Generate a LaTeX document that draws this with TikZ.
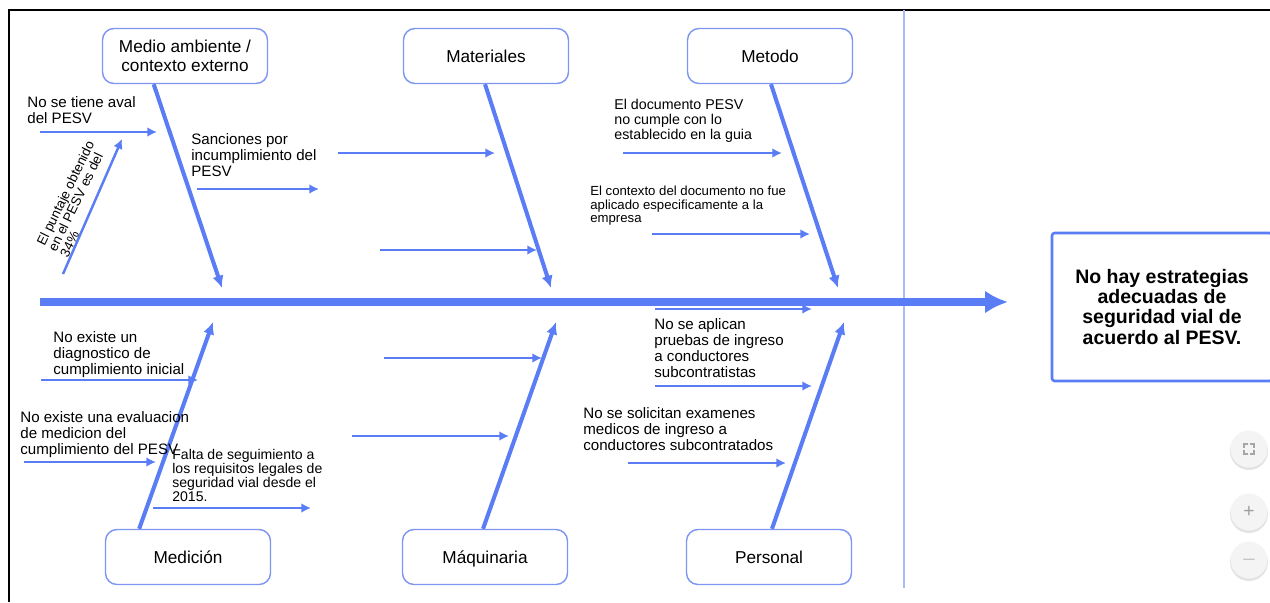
\documentclass[tikz,border=0pt]{standalone}
\usepackage{fontspec}
\setmainfont{Liberation Sans}
\usetikzlibrary{arrows.meta}
\definecolor{bone}{RGB}{90,125,245}
\definecolor{boxline}{RGB}{125,150,242}
\definecolor{sepline}{RGB}{170,186,250}
\begin{document}
\begin{tikzpicture}[
    x=0.02cm, y=-0.02cm,
    cat/.style={draw=boxline, line width=0.8pt, rounded corners=6.5pt, fill=white,
      minimum width=3.3cm, minimum height=1.1cm, align=center,
      font=\fontsize{9.8}{10.8}\selectfont},
    onecat/.style={cat, text height=0.72em, text depth=0pt},
    effect/.style={draw=bone, line width=1.5pt, rounded corners=1.5pt, fill=white,
      minimum width=4.4cm, minimum height=2.96cm, align=center,
      font=\fontsize{11.1}{11.4}\selectfont\bfseries},
    cause/.style={anchor=north west, inner sep=0pt, align=left,
      font=\fontsize{8.6}{9.1}\selectfont},
    spine/.style={bone, line width=4.3pt, -{Latex[length=13pt,width=13pt]}},
    rib/.style={bone, line width=2.3pt, -{Latex[length=7pt,width=6.5pt]}},
    sub/.style={bone, line width=1.4pt, -{Latex[length=5.5pt,width=5.5pt]}},
    btn/.style={circle, fill=gray!9, minimum size=0.74cm, inner sep=0pt,
      font=\fontsize{11}{11}\selectfont, text=gray!75},
  ]
  \useasboundingbox (0,0) rectangle (1270,602);
  % screen frame
  \draw[line width=1.1pt] (9,602) -- (9,10) -- (1270,10);
  \draw[sepline, line width=0.9pt] (904,10) -- (904,588);

  % categories
  \node[cat] (medio) at (185,56) {Medio ambiente /\\contexto externo};
  \node[onecat] (mat) at (486,56) {Materiales};
  \node[onecat] (metodo) at (770,56) {Metodo};
  \node[onecat] (medicion) at (188,557) {Medición};
  \node[onecat] (maq) at (485,557) {Máquinaria};
  \node[onecat] (personal) at (769,557) {Personal};
  \node[effect] (efecto) at (1162,307) {No hay estrategias\\adecuadas de\\seguridad vial de\\acuerdo al PESV.};

  % points on the spine
  \coordinate (cola) at (40,302);
  \coordinate (punta) at (1008,302);
  \coordinate (j1) at (222,288);
  \coordinate (j2) at (551,288);
  \coordinate (j3) at (838,288);
  \coordinate (j4) at (213,322);
  \coordinate (j5) at (556,322);
  \coordinate (j6) at (844,322);

  % sub causes
  \coordinate (a1) at (40,132);   \coordinate (b1) at (157,132);
  \coordinate (a2) at (63,274);   \coordinate (b2) at (122,139);
  \coordinate (a3) at (197,189);  \coordinate (b3) at (319,189);
  \coordinate (a4) at (338,153);  \coordinate (b4) at (495,153);
  \coordinate (a5) at (380,250);  \coordinate (b5) at (537,250);
  \coordinate (a6) at (623,153);  \coordinate (b6) at (782,153);
  \coordinate (a7) at (652,234);  \coordinate (b7) at (810,234);
  \coordinate (a8) at (41,380);   \coordinate (b8) at (198,380);
  \coordinate (a9) at (24,462);   \coordinate (b9) at (156,462);
  \coordinate (a10) at (153,508); \coordinate (b10) at (311,508);
  \coordinate (a11) at (384,358); \coordinate (b11) at (542,358);
  \coordinate (a12) at (352,436); \coordinate (b12) at (509,436);
  \coordinate (a13) at (655,309); \coordinate (b13) at (812,309);
  \coordinate (a14) at (655,386); \coordinate (b14) at (812,386);
  \coordinate (a15) at (628,463); \coordinate (b15) at (786,463);

  \foreach \i in {1,...,15}
    \draw[sub] (a\i) -- (b\i);

  \draw[spine] (cola) -- (punta);

  \draw[rib] (medio.222) -- (j1);
  \draw[rib] (mat.268) -- (j2);
  \draw[rib] (metodo.272) -- (j3);
  \draw[rib] (medicion.150) -- (j4);
  \draw[rib] (maq.94) -- (j5);
  \draw[rib] (personal.84) -- (j6);

  % texts
  \node[cause] (aval) at (27,96) {No se tiene aval\\del PESV};
  \node[cause, anchor=center, rotate=64, font=\fontsize{7.6}{7.4}\selectfont]
    (puntaje) at (77,199) {El puntaje obtenido\\en el PESV es del\\34\%};
  \node[cause] (sanciones) at (191,133) {Sanciones por\\incumplimiento del\\PESV};
  \node[cause, font=\fontsize{8.1}{8.5}\selectfont] (documento) at (614,99)
    {El documento PESV\\no cumple con lo\\establecido en la guia};
  \node[cause, font=\fontsize{7.5}{7.7}\selectfont] (contexto) at (590,186)
    {El contexto del documento no fue\\aplicado especificamente a la\\empresa};
  \node[cause] (diagnostico) at (53,331) {No existe un\\diagnostico de\\cumplimiento inicial};
  \node[cause] (evaluacion) at (20,411) {No existe una evaluacion\\de medicion del\\cumplimiento del PESV};
  \node[cause, font=\fontsize{8}{8}\selectfont] (seguimiento) at (172,449)
    {Falta de seguimiento a\\los requisitos legales de\\seguridad vial desde el\\2015.};
  \node[cause] (aplican) at (654,318) {No se aplican\\pruebas de ingreso\\a conductores\\subcontratistas};
  \node[cause] (solicitan) at (583,407) {No se solicitan examenes\\medicos de ingreso a\\conductores subcontratados};

  % viewer buttons
  \foreach \y in {449,512,560}
    \fill[gray!22] (1249,\y+2) circle (19);
  \node[btn] (pantalla) at (1249,449) {};
  \node[btn] (mas) at (1249,512) {+};
  \node[btn] (menos) at (1249,560) {$-$};
  \draw[gray!70, line width=0.6pt]
    ([shift={(-5,-1)}]pantalla.center) -- ++(0,-4) -- ++(4,0)
    ([shift={(1,-5)}]pantalla.center) -- ++(4,0) -- ++(0,4)
    ([shift={(5,1)}]pantalla.center) -- ++(0,4) -- ++(-4,0)
    ([shift={(-1,5)}]pantalla.center) -- ++(-4,0) -- ++(0,-4);
\end{tikzpicture}
\end{document}
